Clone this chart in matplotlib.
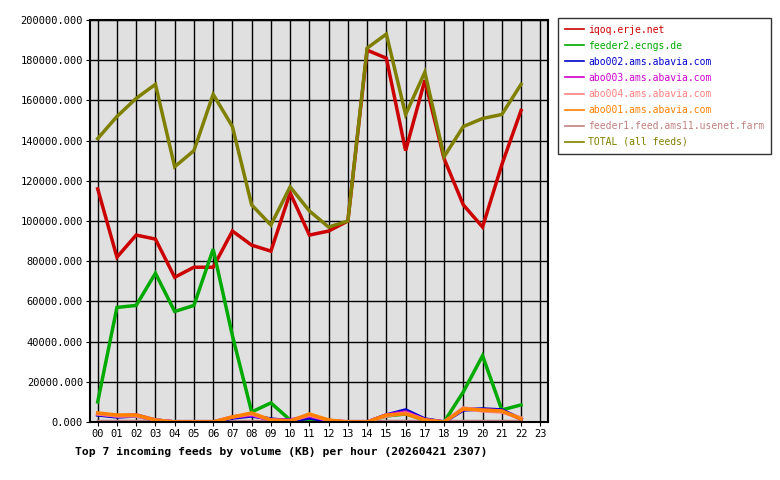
import matplotlib
matplotlib.use("Agg")
import matplotlib.pyplot as plt

hours = list(range(23))
xlabels = ["%02d" % h for h in range(24)]
iqoq = [116000,82000,93000,91000,72000,77000,77000,95000,88000,85000,114000,93000,95000,100000,185000,181000,135000,170000,131000,108000,97000,128000,155000]
feeder2 = [10000,57000,58000,74000,55000,58000,86000,43000,5000,9500,1000,500,0,0,0,3000,4000,1000,0,15000,33000,6000,8500]
abo002 = [3500,2500,3000,1000,0,0,0,2000,3000,1500,500,2000,500,0,0,3500,6000,1500,0,6000,6500,6000,1500]
abo003 = [4000,3000,3500,1000,0,0,0,2500,3500,1000,1000,3000,800,0,0,3500,5000,1200,0,6500,6000,5500,1500]
abo004 = [4000,3000,3000,1000,0,0,0,2500,4000,1000,500,3500,800,0,0,3000,4500,1000,0,7000,5500,5000,2000]
abo001 = [4500,3500,3500,1000,0,0,0,2500,4500,1000,500,4000,1000,0,0,3500,4000,1000,0,6500,6000,5500,1500]
feeder1 = [500]*23
total = [141000,152000,161000,168000,127000,135000,163000,147000,108000,98000,117000,105000,97000,100000,186000,193000,153000,174000,132000,147000,151000,153000,168000]

series = [("iqoq.erje.net", iqoq, "#cc0000"),
          ("feeder2.ecngs.de", feeder2, "#00aa00"),
          ("abo002.ams.abavia.com", abo002, "#0000cc"),
          ("abo003.ams.abavia.com", abo003, "#cc00cc"),
          ("abo004.ams.abavia.com", abo004, "#ff8080"),
          ("abo001.ams.abavia.com", abo001, "#ff8000"),
          ("feeder1.feed.ams11.usenet.farm", feeder1, "#c08080"),
          ("TOTAL (all feeds)", total, "#808000")]

plt.rcParams['font.family'] = 'DejaVu Sans Mono'
fig = plt.figure(figsize=(7.8, 4.8), dpi=100)
ax = fig.add_axes([90/780, 58/480, 458/780, 402/480])
ax.set_facecolor("#e0e0e0")
order = [6, 0, 1, 2, 3, 4, 5, 7]
handles = {}
for i in order:
    name, vals, c = series[i]
    ln, = ax.plot(hours, vals, color=c, lw=2.5, solid_joinstyle='miter')
    handles[i] = ln
ax.set_xlim(-0.4, 23.4)
ax.set_ylim(0, 200000)
ax.set_xticks(range(24))
ax.set_xticklabels(xlabels, fontsize=7.5)
ax.set_yticks(range(0, 200001, 20000))
ax.set_yticklabels(["%d.000" % v if v else "0.000" for v in range(0, 200001, 20000)], fontsize=7.5)
ax.grid(True, color="black", lw=1)
ax.set_axisbelow(True)
for s in ax.spines.values():
    s.set_linewidth(1.5)
ax.tick_params(length=3, pad=2)
fig.text(75/780, 1 - 452/480, "Top 7 incoming feeds by volume (KB) per hour (20260421 2307)",
         fontsize=8.2, fontweight="bold", va="center", ha="left")
leg = ax.legend([handles[i] for i in range(8)], [s[0] for s in series],
                loc="upper left", bbox_to_anchor=(1.022, 1.005), fontsize=7,
                frameon=True, fancybox=False, edgecolor="black", handlelength=2,
                handletextpad=0.4, borderaxespad=0, labelspacing=0.62, borderpad=0.7)
leg.get_frame().set_linewidth(1)
for t, s in zip(leg.get_texts(), series):
    t.set_color(s[2])
for h in leg.legend_handles:
    h.set_linewidth(1.2)
fig.savefig("out.png", dpi=100)
